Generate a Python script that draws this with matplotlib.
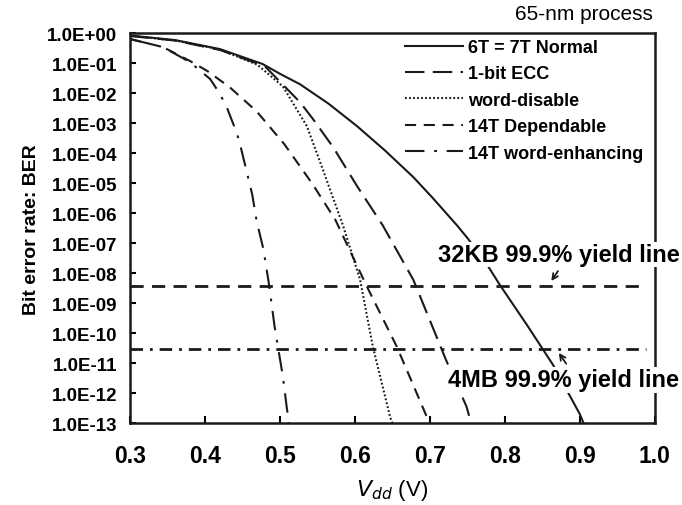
import matplotlib
matplotlib.use("Agg")
import matplotlib.pyplot as plt
import matplotlib.ticker as ticker

plt.rcParams['font.family'] = ['Liberation Sans', 'DejaVu Sans']
plt.rcParams['lines.scale_dashes'] = False

# Vdd (V) and BER
v_normal = [0.30, 0.36, 0.42, 0.477, 0.50, 0.527, 0.565, 0.603, 0.64, 0.678, 0.704, 0.736, 0.751, 0.776, 0.793, 0.83, 0.864, 0.90, 0.905]
ber_normal = [0.85, 0.6, 0.3, 0.095, 0.045, 0.02, 4.5e-3, 8e-4, 1.25e-4, 1.6e-5, 3.2e-6, 4e-7, 1.4e-7, 2e-8, 4.2e-9, 1.8e-10, 9e-12, 2e-13, 1e-13]

v_ecc = [0.30, 0.36, 0.42, 0.48, 0.527, 0.544, 0.571, 0.603, 0.637, 0.678, 0.722, 0.749, 0.755]
ber_ecc = [0.82, 0.58, 0.28, 0.08, 5e-3, 1.4e-3, 1.6e-4, 8e-6, 4e-7, 6e-9, 1.2e-11, 3.5e-13, 1e-13]

v_wd = [0.30, 0.36, 0.42, 0.47, 0.504, 0.536, 0.557, 0.584, 0.607, 0.624, 0.647, 0.65]
ber_wd = [0.84, 0.58, 0.29, 0.09, 1.7e-2, 8e-4, 3e-5, 4e-7, 6e-9, 3.5e-11, 1.6e-13, 1e-13]

v_dep = [0.30, 0.344, 0.38, 0.403, 0.433, 0.469, 0.506, 0.544, 0.574, 0.616, 0.656, 0.696, 0.70]
ber_dep = [0.65, 0.35, 0.12, 0.056, 0.016, 2.5e-3, 2e-4, 9e-6, 6e-7, 3.6e-9, 3.5e-11, 1.6e-13, 1e-13]

v_we = [0.30, 0.344, 0.38, 0.407, 0.42, 0.429, 0.443, 0.449, 0.463, 0.469, 0.478, 0.485, 0.493, 0.504, 0.509, 0.512]
ber_we = [0.65, 0.35, 0.11, 3e-2, 9.5e-3, 3.5e-3, 4.4e-4, 1.2e-4, 4.3e-6, 5.4e-7, 6.3e-8, 5e-9, 1.6e-10, 3.5e-12, 3.5e-13, 1e-13]

yield_32kb = 3.8e-9
yield_4mb = 3.0e-11

fig = plt.figure(figsize=(6.82, 5.06), dpi=100)
ax = fig.add_axes([0.1906, 0.162, 0.7694, 0.770])

lw = 1.5
ink = '#1a1a1a'
ax.plot(v_normal, ber_normal, color=ink, lw=lw, label='6T = 7T Normal')
ax.plot(v_ecc, ber_ecc, color=ink, lw=lw, dashes=(14, 6), label='1-bit ECC')
ax.plot(v_wd, ber_wd, color=ink, lw=lw, dashes=(1.3, 1.6), label='word-disable')
ax.plot(v_dep, ber_dep, color=ink, lw=lw, dashes=(8, 5.5), label='14T Dependable')
ax.plot(v_we, ber_we, color=ink, lw=lw, dashes=(14, 7, 2, 7), label='14T word-enhancing')

ax.plot([0.3, 0.989], [yield_32kb, yield_32kb], color=ink, lw=2, dashes=(9.5, 6))
ax.plot([0.3, 0.989], [yield_4mb, yield_4mb], color=ink, lw=2, dashes=(9, 5, 2, 5))

ax.set_yscale('log')
ax.set_xlim(0.3, 1.0)
ax.set_ylim(1e-13, 1.0)
ax.xaxis.set_major_locator(ticker.MultipleLocator(0.1))
ax.xaxis.set_major_formatter(ticker.FormatStrFormatter('%.1f'))
ax.yaxis.set_major_locator(ticker.LogLocator(base=10, numticks=20))
ax.yaxis.set_minor_locator(ticker.NullLocator())
ax.yaxis.set_major_formatter(ticker.FuncFormatter(lambda y, p: '%.1E' % y))

ax.tick_params(axis='x', direction='in', length=5, width=1.5, labelsize=16.5, pad=15)
ax.tick_params(axis='y', direction='in', length=4, width=1.5, labelsize=13.5, pad=9)
for lab in ax.get_xticklabels() + ax.get_yticklabels():
    lab.set_fontweight('bold')
for sp in ax.spines.values():
    sp.set_linewidth(1.8)
    sp.set_color(ink)

ax.set_xlabel(r'$\mathit{V}_{\mathit{dd}}$ (V)', fontsize=16, labelpad=7)
ax.set_ylabel('Bit error rate: BER', fontsize=14, fontweight='bold', labelpad=5)

leg = ax.legend(loc='upper left', bbox_to_anchor=(405 / 682, 1 - 40 / 506),
                bbox_transform=fig.transFigure, frameon=False, borderpad=0,
                borderaxespad=0, handlelength=3.2, handletextpad=0.3,
                labelspacing=0.52, prop={'size': 13, 'weight': 'bold'})

fig.text(653 / 682, 1 - 15 / 506, '65-nm process', ha='right', va='center', fontsize=15)

box = dict(facecolor='white', edgecolor='none', pad=1)
t1 = ax.annotate('32KB 99.9% yield line', xy=(0.711, 4.2e-8), fontsize=17,
                 fontweight='bold', va='center', ha='left', bbox=box,
                 annotation_clip=False, zorder=5)
t1.set_clip_on(False)
ax.annotate('', xy=(0.86, 4.6e-9), xytext=(0.873, 1.4e-8),
            arrowprops=dict(arrowstyle='->', lw=1.3, color=ink), zorder=6)
t2 = ax.annotate('4MB 99.9% yield line', xy=(0.724, 2.8e-12), fontsize=17,
                 fontweight='bold', va='center', ha='left', bbox=box,
                 annotation_clip=False, zorder=5)
t2.set_clip_on(False)
ax.annotate('', xy=(0.870, 2.6e-11), xytext=(0.884, 8e-12),
            arrowprops=dict(arrowstyle='->', lw=1.3, color=ink), zorder=6)

fig.savefig('out.png', dpi=100)
